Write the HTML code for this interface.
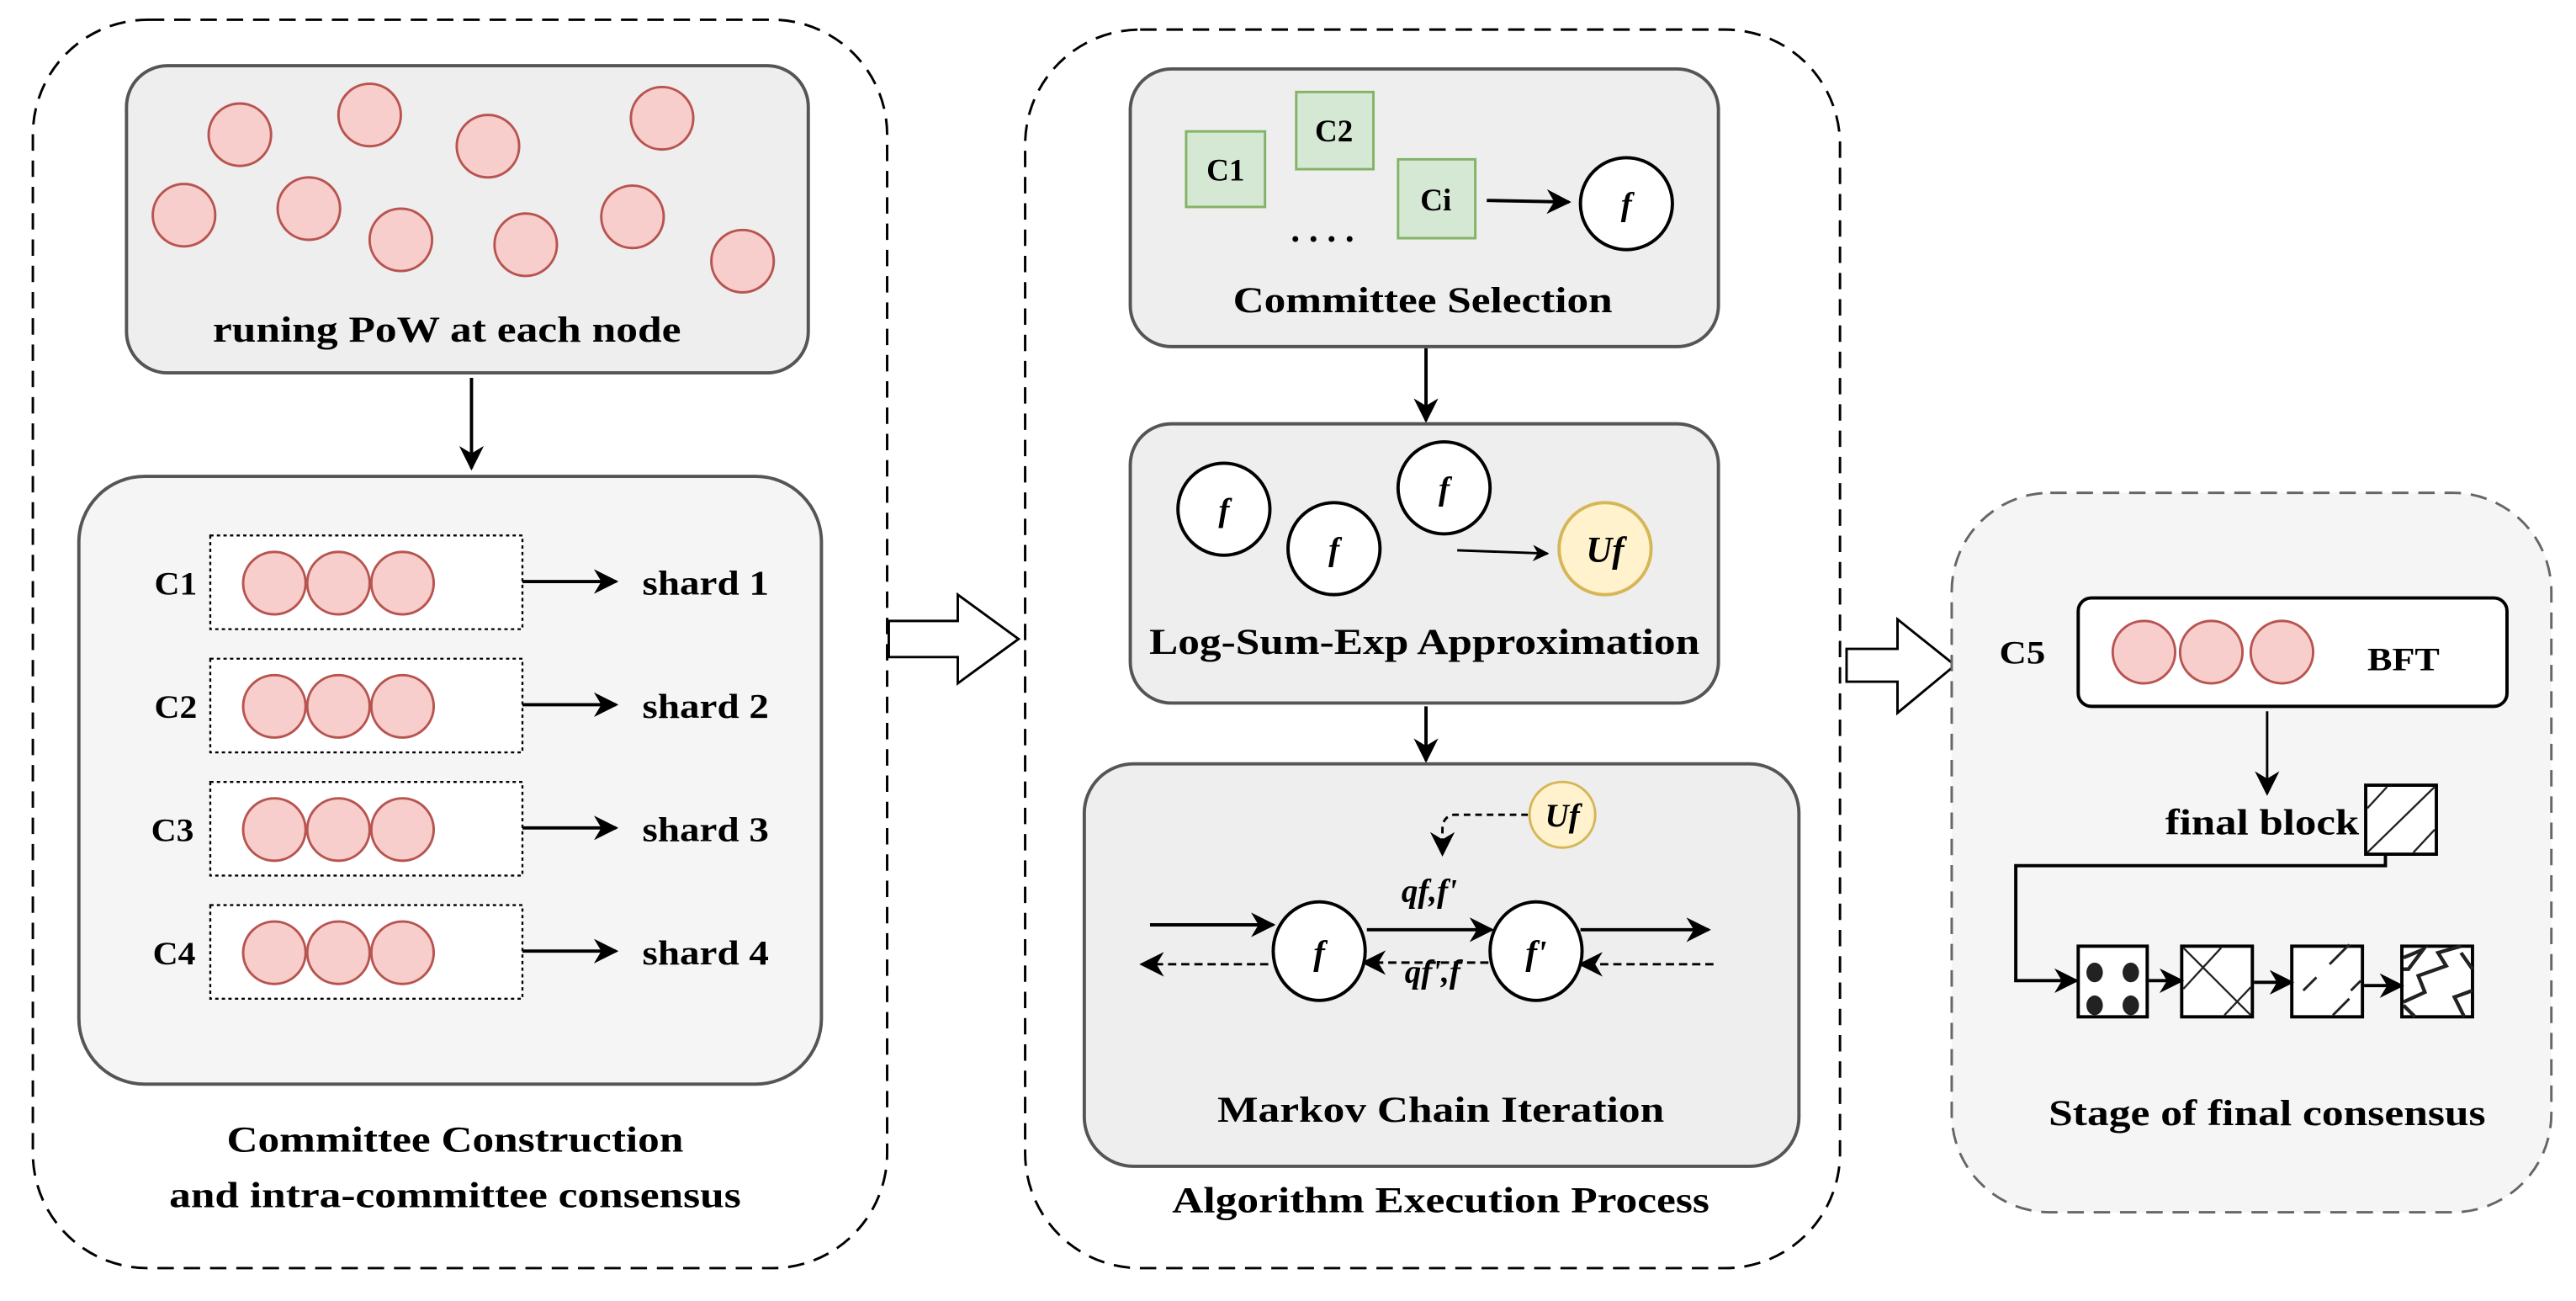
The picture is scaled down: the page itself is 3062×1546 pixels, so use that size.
<!DOCTYPE html>
<html><head><meta charset="utf-8"><style>
html,body{margin:0;padding:0;background:#fff;}
svg{display:block;}
text{font-family:"Liberation Serif",serif;font-weight:bold;fill:#000;}
.it{font-style:italic;}
</style></head><body>
<svg width="3062" height="1546" viewBox="0 0 1568 792" preserveAspectRatio="none" xmlns="http://www.w3.org/2000/svg">
<defs>
<marker id="ar" viewBox="0 0 10 10" refX="9" refY="5" markerWidth="10" markerHeight="10" orient="auto" markerUnits="userSpaceOnUse">
<path d="M0,0 L10,5 L0,10 L3,5 z" fill="#000"/></marker>
<marker id="ar2" viewBox="0 0 10 10" refX="9" refY="5" markerWidth="15" markerHeight="15" orient="auto" markerUnits="userSpaceOnUse">
<path d="M0,0 L10,5 L0,10 L3,5 z" fill="#000"/></marker>
</defs>
<rect width="1568" height="792" fill="#fff"/>

<!-- LEFT -->
<rect x="20" y="12" width="520" height="760" rx="70" fill="none" stroke="#000" stroke-width="1.5" stroke-dasharray="10,6"/>
<rect x="77" y="40" width="415" height="187" rx="25" fill="#eeeeee" stroke="#555" stroke-width="2"/>
<g fill="#f8cecc" stroke="#b85450" stroke-width="1.5">
<circle cx="146" cy="82" r="19"/><circle cx="225" cy="70" r="19"/><circle cx="297" cy="89" r="19"/><circle cx="403" cy="72" r="19"/>
<circle cx="112" cy="131" r="19"/><circle cx="188" cy="127" r="19"/><circle cx="244" cy="146" r="19"/><circle cx="320" cy="149" r="19"/><circle cx="385" cy="132" r="19"/><circle cx="452" cy="159" r="19"/>
</g>
<text x="272" y="208" font-size="22" text-anchor="middle" textLength="285" lengthAdjust="spacingAndGlyphs">runing PoW at each node</text>
<line x1="287" y1="230" x2="287" y2="285" stroke="#000" stroke-width="2" marker-end="url(#ar2)"/>
<rect x="48" y="290" width="452" height="370" rx="40" fill="#f5f5f5" stroke="#555" stroke-width="2"/>
<g>
<g transform="translate(0,0)">
<text x="107" y="362" font-size="20" text-anchor="middle" textLength="26" lengthAdjust="spacingAndGlyphs">C1</text>
<rect x="128" y="326" width="190" height="57" fill="#fff" stroke="#000" stroke-width="1.2" stroke-dasharray="2,2"/>
<g fill="#f8cecc" stroke="#b85450" stroke-width="1.5"><circle cx="167" cy="355" r="19"/><circle cx="206" cy="355" r="19"/><circle cx="245" cy="355" r="19"/></g>
<line x1="318" y1="354" x2="375" y2="354" stroke="#000" stroke-width="2" marker-end="url(#ar2)"/>
<text x="391" y="362" font-size="21" textLength="77" lengthAdjust="spacingAndGlyphs">shard 1</text>
</g>
<g transform="translate(0,75)">
<text x="107" y="362" font-size="20" text-anchor="middle" textLength="26" lengthAdjust="spacingAndGlyphs">C2</text>
<rect x="128" y="326" width="190" height="57" fill="#fff" stroke="#000" stroke-width="1.2" stroke-dasharray="2,2"/>
<g fill="#f8cecc" stroke="#b85450" stroke-width="1.5"><circle cx="167" cy="355" r="19"/><circle cx="206" cy="355" r="19"/><circle cx="245" cy="355" r="19"/></g>
<line x1="318" y1="354" x2="375" y2="354" stroke="#000" stroke-width="2" marker-end="url(#ar2)"/>
<text x="391" y="362" font-size="21" textLength="77" lengthAdjust="spacingAndGlyphs">shard 2</text>
</g>
<g transform="translate(0,150)">
<text x="105" y="362" font-size="20" text-anchor="middle" textLength="26" lengthAdjust="spacingAndGlyphs">C3</text>
<rect x="128" y="326" width="190" height="57" fill="#fff" stroke="#000" stroke-width="1.2" stroke-dasharray="2,2"/>
<g fill="#f8cecc" stroke="#b85450" stroke-width="1.5"><circle cx="167" cy="355" r="19"/><circle cx="206" cy="355" r="19"/><circle cx="245" cy="355" r="19"/></g>
<line x1="318" y1="354" x2="375" y2="354" stroke="#000" stroke-width="2" marker-end="url(#ar2)"/>
<text x="391" y="362" font-size="21" textLength="77" lengthAdjust="spacingAndGlyphs">shard 3</text>
</g>
<g transform="translate(0,225)">
<text x="106" y="362" font-size="20" text-anchor="middle" textLength="26" lengthAdjust="spacingAndGlyphs">C4</text>
<rect x="128" y="326" width="190" height="57" fill="#fff" stroke="#000" stroke-width="1.2" stroke-dasharray="2,2"/>
<g fill="#f8cecc" stroke="#b85450" stroke-width="1.5"><circle cx="167" cy="355" r="19"/><circle cx="206" cy="355" r="19"/><circle cx="245" cy="355" r="19"/></g>
<line x1="318" y1="354" x2="375" y2="354" stroke="#000" stroke-width="2" marker-end="url(#ar2)"/>
<text x="391" y="362" font-size="21" textLength="77" lengthAdjust="spacingAndGlyphs">shard 4</text>
</g>
</g>
<text x="277" y="701" font-size="22" text-anchor="middle" textLength="278" lengthAdjust="spacingAndGlyphs">Committee Construction</text>
<text x="277" y="735" font-size="22" text-anchor="middle" textLength="348" lengthAdjust="spacingAndGlyphs">and intra-committee consensus</text>

<!-- block arrow 1 -->
<path d="M541,378 L583,378 L583,362 L620,389 L583,416 L583,400 L541,400 Z" fill="#fff" stroke="#000" stroke-width="1.5"/>

<!-- MIDDLE -->
<rect x="624" y="18" width="496" height="754" rx="70" fill="none" stroke="#000" stroke-width="1.5" stroke-dasharray="10,6"/>
<rect x="688" y="42" width="358" height="169" rx="25" fill="#eeeeee" stroke="#555" stroke-width="2"/>
<g fill="#d5e8d4" stroke="#82b366" stroke-width="1.5">
<rect x="722" y="80" width="48" height="46"/><rect x="789" y="56" width="47" height="47"/><rect x="851" y="97" width="47" height="48"/>
</g>
<text x="746" y="110" font-size="19" text-anchor="middle">C1</text>
<text x="812" y="86" font-size="19" text-anchor="middle">C2</text>
<text x="874" y="128" font-size="19" text-anchor="middle">Ci</text>
<text x="805" y="147" font-size="22" text-anchor="middle">. . . .</text>
<line x1="905" y1="122" x2="955" y2="123" stroke="#000" stroke-width="2" marker-end="url(#ar2)"/>
<circle cx="990" cy="124" r="28" fill="#fff" stroke="#000" stroke-width="2"/>
<text x="990" y="131" font-size="20" text-anchor="middle" class="it">f</text>
<text x="866" y="190" font-size="22" text-anchor="middle" textLength="231" lengthAdjust="spacingAndGlyphs">Committee Selection</text>
<line x1="868" y1="212" x2="868" y2="256" stroke="#000" stroke-width="2" marker-end="url(#ar2)"/>

<rect x="688" y="258" width="358" height="170" rx="25" fill="#eeeeee" stroke="#555" stroke-width="2"/>
<g fill="#fff" stroke="#000" stroke-width="2"><circle cx="745" cy="310" r="28"/><circle cx="812" cy="334" r="28"/><circle cx="879" cy="297" r="28"/></g>
<text x="745" y="317" font-size="20" text-anchor="middle" class="it">f</text>
<text x="812" y="341" font-size="20" text-anchor="middle" class="it">f</text>
<text x="879" y="304" font-size="20" text-anchor="middle" class="it">f</text>
<line x1="887" y1="335" x2="942" y2="337" stroke="#000" stroke-width="1.5" marker-end="url(#ar)"/>
<circle cx="977" cy="334" r="28" fill="#fff2cc" stroke="#d6b656" stroke-width="2"/>
<text x="977" y="342" font-size="22" text-anchor="middle" class="it">Uf</text>
<text x="867" y="398" font-size="22" text-anchor="middle" textLength="335" lengthAdjust="spacingAndGlyphs">Log-Sum-Exp Approximation</text>
<line x1="868" y1="430" x2="868" y2="463" stroke="#000" stroke-width="2" marker-end="url(#ar2)"/>

<rect x="660" y="465" width="435" height="245" rx="30" fill="#eeeeee" stroke="#555" stroke-width="2"/>
<ellipse cx="951" cy="496" rx="20" ry="20" fill="#fff2cc" stroke="#d6b656" stroke-width="1.5"/>
<text x="951" y="503" font-size="20" text-anchor="middle" class="it">Uf</text>
<path d="M930,496 L885,496 Q878,497 878,505 L878,520" fill="none" stroke="#000" stroke-width="1.5" stroke-dasharray="4,3" marker-end="url(#ar2)"/>
<line x1="700" y1="563" x2="775" y2="563" stroke="#000" stroke-width="2" marker-end="url(#ar2)"/>
<line x1="832" y1="566" x2="908" y2="566" stroke="#000" stroke-width="2" marker-end="url(#ar2)"/>
<line x1="962" y1="566" x2="1040" y2="566" stroke="#000" stroke-width="2" marker-end="url(#ar2)"/>
<line x1="772" y1="587" x2="695" y2="587" stroke="#000" stroke-width="1.5" stroke-dasharray="5,3" marker-end="url(#ar2)"/>
<line x1="906" y1="586" x2="830" y2="586" stroke="#000" stroke-width="1.5" stroke-dasharray="5,3" marker-end="url(#ar2)"/>
<line x1="1043" y1="587" x2="962" y2="587" stroke="#000" stroke-width="1.5" stroke-dasharray="5,3" marker-end="url(#ar2)"/>
<ellipse cx="803" cy="579" rx="28" ry="30" fill="#fff" stroke="#000" stroke-width="2"/>
<ellipse cx="935" cy="579" rx="28" ry="30" fill="#fff" stroke="#000" stroke-width="2"/>
<text x="803" y="587" font-size="21" text-anchor="middle" class="it">f</text>
<text x="935" y="587" font-size="21" text-anchor="middle" class="it">f'</text>
<text x="870" y="549" font-size="20" text-anchor="middle" class="it">qf,f'</text>
<text x="872" y="598" font-size="20" text-anchor="middle" class="it">qf',f</text>
<text x="877" y="683" font-size="22" text-anchor="middle" textLength="272" lengthAdjust="spacingAndGlyphs">Markov Chain Iteration</text>
<text x="877" y="738" font-size="22" text-anchor="middle" textLength="327" lengthAdjust="spacingAndGlyphs">Algorithm Execution Process</text>

<!-- block arrow 2 -->
<path d="M1124,395 L1155,395 L1155,377 L1190,405 L1155,434 L1155,415 L1124,415 Z" fill="#fff" stroke="#000" stroke-width="1.5"/>

<!-- RIGHT -->
<rect x="1188" y="300" width="365" height="438" rx="60" fill="#f5f5f5" stroke="#666" stroke-width="1.5" stroke-dasharray="10,6"/>
<text x="1231" y="404" font-size="20" text-anchor="middle" textLength="28" lengthAdjust="spacingAndGlyphs">C5</text>
<rect x="1265" y="364" width="261" height="66" rx="8" fill="#fff" stroke="#000" stroke-width="2"/>
<g fill="#f8cecc" stroke="#b85450" stroke-width="1.5"><circle cx="1305" cy="397" r="19"/><circle cx="1346" cy="397" r="19"/><circle cx="1389" cy="397" r="19"/></g>
<text x="1463" y="408" font-size="20" text-anchor="middle" textLength="44" lengthAdjust="spacingAndGlyphs">BFT</text>
<line x1="1380" y1="433" x2="1380" y2="483" stroke="#000" stroke-width="1.5" marker-end="url(#ar2)"/>
<text x="1436" y="508" font-size="22" text-anchor="end" textLength="118" lengthAdjust="spacingAndGlyphs">final block</text>
<rect x="1440" y="478" width="43" height="42" fill="#fff" stroke="#000" stroke-width="2"/>
<g stroke="#222" stroke-width="1.2"><line x1="1441" y1="492" x2="1453" y2="479"/><line x1="1441" y1="519" x2="1482" y2="479"/><line x1="1469" y1="519" x2="1482" y2="505"/></g>
<path d="M1452,520 L1452,527 L1227,527 L1227,597 L1264,597" fill="none" stroke="#000" stroke-width="2" marker-end="url(#ar2)"/>
<g fill="#fff" stroke="#000" stroke-width="2">
<rect x="1265" y="576" width="42" height="43"/><rect x="1328" y="576" width="43" height="43"/><rect x="1395" y="576" width="43" height="43"/><rect x="1462" y="576" width="43" height="43"/>
</g>
<g fill="#222"><ellipse cx="1275" cy="592" rx="5" ry="6"/><ellipse cx="1297" cy="592" rx="5" ry="6"/><ellipse cx="1275" cy="612" rx="5" ry="6"/><ellipse cx="1297" cy="612" rx="5" ry="6"/></g>
<g stroke="#222" stroke-width="1.2"><line x1="1329" y1="577" x2="1370" y2="618"/><line x1="1329" y1="602" x2="1352" y2="577"/><line x1="1354" y1="618" x2="1370" y2="601"/></g>
<g stroke="#222" stroke-width="1.5"><line x1="1418" y1="587" x2="1430" y2="575"/><line x1="1402" y1="603" x2="1410" y2="595"/><line x1="1431" y1="603" x2="1437" y2="597"/><line x1="1420" y1="618" x2="1430" y2="608"/></g>
<path d="M1463,583 L1475,578 L1466,590 L1463,590 M1463,610 L1476,604 L1472,594 L1489,588 L1484,580 L1498,576 M1470,619 L1463,612 M1505,590 L1498,580 M1505,603 L1494,607 L1500,619" fill="none" stroke="#222" stroke-width="2.2"/>
<line x1="1308" y1="597" x2="1328" y2="597" stroke="#000" stroke-width="2" marker-end="url(#ar2)"/>
<line x1="1372" y1="598" x2="1395" y2="598" stroke="#000" stroke-width="2" marker-end="url(#ar2)"/>
<line x1="1439" y1="600" x2="1462" y2="600" stroke="#000" stroke-width="2" marker-end="url(#ar2)"/>
<text x="1380" y="685" font-size="22" text-anchor="middle" textLength="266" lengthAdjust="spacingAndGlyphs">Stage of final consensus</text>
</svg>
</body></html>
